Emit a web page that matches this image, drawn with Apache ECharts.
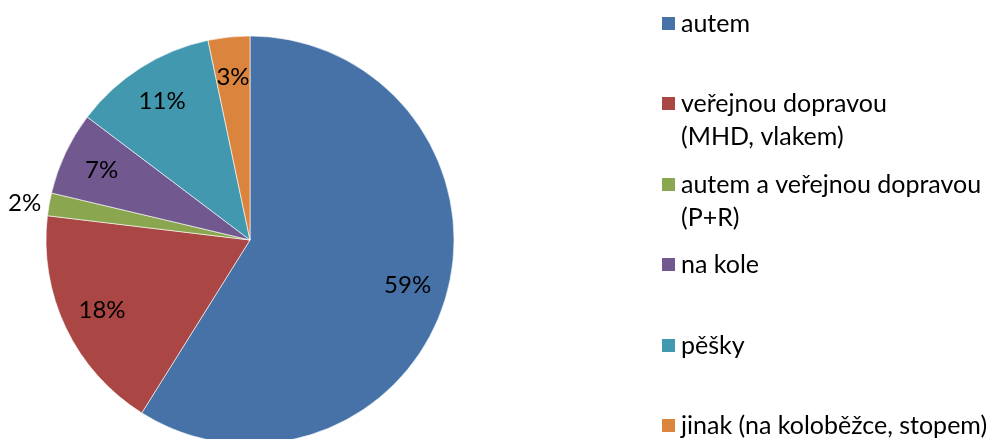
<!DOCTYPE html>
<html>
<head>
<meta charset="utf-8">
<script src="https://cdn.jsdelivr.net/npm/echarts@6/dist/echarts.min.js"></script>
<style>
  html, body { margin: 0; padding: 0; background: #fff; }
  #chart { width: 992px; height: 439px; }
</style>
</head>
<body>
<div id="chart"></div>
<script>
// data
const categories = [
  'autem',
  'veřejnou dopravou\n(MHD, vlakem)',
  'autem a veřejnou dopravou\n(P+R)',
  'na kole',
  'pěšky',
  'jinak (na koloběžce, stopem)'
]
const values = [58.9, 18.0, 1.8, 6.6, 11.4, 3.3]
const colors = ['#4672A8', '#AA4744', '#8AA64E', '#71598F', '#4298AF', '#DB843D']

// legend icon tops (px)
const legendTops = [16, 96, 177, 257, 338, 418]

const font = 'Lato, Calibri, sans-serif'
const myChart = echarts.init(document.getElementById('chart'))

const pieData = categories.map((name, i) => ({ name, value: values[i], itemStyle: { color: colors[i] } }))

// label ring: transparent ring so that inside labels sit near the outer edge
const labelData = categories.map((name, i) => {
  const item = { name, value: values[i] }
  if (values[i] < 2.5) {
    item.label = { position: 'outside', overflow: 'none' }
  }
  return item
})

const legends = categories.map((name, i) => {
  const twoLine = name.indexOf('\n') >= 0
  return {
    orient: 'vertical',
    left: 660,
    top: legendTops[i] - (twoLine ? 42 : 9),
    padding: 0,
    itemWidth: 15,
    itemHeight: 15,
    itemGap: 0,
    icon: 'rect',
    selectedMode: false,
    // empty first line keeps the icon beside the first text line
    formatter: n => (n.indexOf('\n') >= 0 ? '\n' + n : n),
    textStyle: {
      fontFamily: font,
      fontSize: 25,
      lineHeight: 33,
      color: '#000'
    },
    data: [name]
  }
})

const option = {
  animation: false,
  legend: legends,
  series: [
    {
      type: 'pie',
      center: [250, 240],
      radius: [0, 204],
      startAngle: 90,
      clockwise: true,
      data: pieData,
      itemStyle: { borderColor: '#fff', borderWidth: 0.6 },
      label: { show: false },
      labelLine: { show: false },
      emphasis: { disabled: true }
    },
    {
      type: 'pie',
      center: [250, 240],
      radius: [118, 204],
      startAngle: 90,
      clockwise: true,
      silent: true,
      data: labelData,
      itemStyle: { color: 'rgba(0,0,0,0)' },
      label: {
        show: true,
        position: 'inside',
        fontFamily: font,
        fontSize: 24,
        color: '#000',
        distanceToLabelLine: 2,
        formatter: p => Math.round(p.percent) + '%'
      },
      labelLine: { show: false, length: 6, length2: 0 },
      emphasis: { disabled: true }
    }
  ]
}

myChart.setOption(option)
window.addEventListener('resize', myChart.resize)
</script>
</body>
</html>
